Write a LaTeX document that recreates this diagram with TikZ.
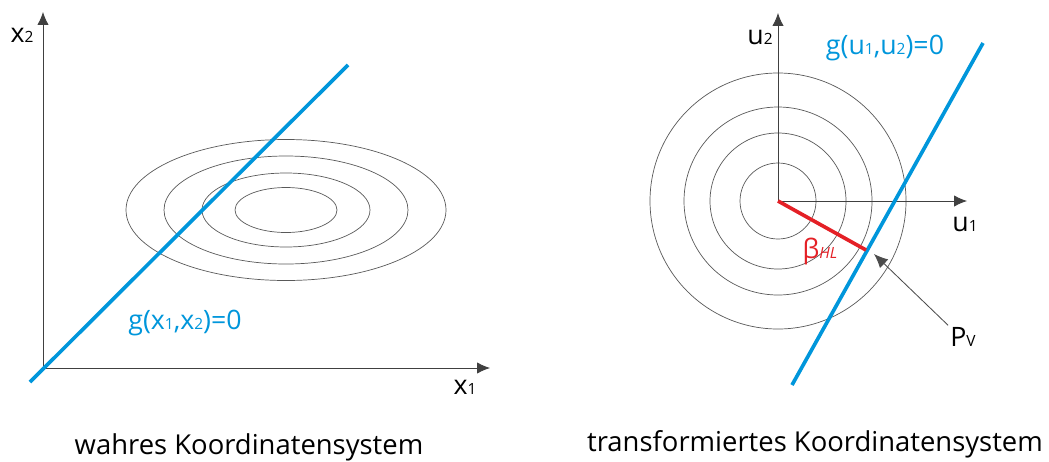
\documentclass[tikz,border=0pt]{standalone}
\usepackage{fontspec}
\setmainfont{Open Sans}
\usetikzlibrary{arrows.meta}
\definecolor{gblue}{RGB}{0,150,219}
\definecolor{hlred}{RGB}{228,32,38}
\newcommand{\idx}[1]{{\fontsize{11}{11}\selectfont #1}}

\begin{document}
\begin{tikzpicture}[
  x=0.025cm,y=-0.025cm,
  ax/.style={-{Latex[length=3.2mm,width=2.8mm]},draw=black!75,line width=0.6pt},
  iso/.style={draw=black!65,line width=0.5pt},
  lim/.style={draw=gblue,line width=2.6pt},
  lbl/.style={font=\fontsize{19}{20}\selectfont,inner sep=0pt},
  sysname/.style={font=\fontsize{19.5}{20}\selectfont,inner sep=0pt}
]
\useasboundingbox (0,0) rectangle (1049,461);

% wahres Koordinatensystem
\coordinate (O1) at (43,368);
\coordinate (x1end) at (490,368);
\coordinate (x2end) at (43,12);
\foreach \rx/\ry in {51/22.5,84/37,122/54,160/70.5}
  \draw[iso] (286,210) ellipse [x radius=\rx, y radius=\ry];
\draw[ax] (O1) -- (x1end);
\draw[ax] (O1) -- (x2end);
\coordinate (g1a) at (30,382);
\coordinate (g1b) at (348,65);
\draw[lim] (g1a) -- (g1b);
\node[lbl] (x1) at (465,387) {x\idx{1}};
\node[lbl] (x2) at (22,35) {x\idx{2}};
\node[lbl,text=gblue] (g1) at (185,323) {g(x\idx{1},x\idx{2})=0};
\node[sysname] (sys1) at (249,447) {wahres Koordinatensystem};

% transformiertes Koordinatensystem
\coordinate (O2) at (778,201);
\coordinate (u1end) at (967,201);
\coordinate (u2end) at (778,13);
\foreach \r in {38,68,94,128}
  \draw[iso] (O2) circle [radius=\r];
\draw[ax] (O2) -- (u1end);
\draw[ax] (O2) -- (u2end);
\coordinate (g2a) at (792,385);
\coordinate (g2b) at (983,43);
\draw[lim] (g2a) -- (g2b);
\coordinate (dp) at (866,250);
\draw[draw=hlred,line width=2.6pt] (O2) -- (dp);
\node[lbl] (u1) at (965,224) {u\idx{1}};
\node[lbl] (u2) at (760,37) {u\idx{2}};
\node[lbl,text=gblue] (g2) at (885,48) {g(u\idx{1},u\idx{2})=0};
\node[lbl,text=hlred] (beta) at (820,251) {β\idx{\itshape HL}};
\node[lbl] (pv) at (963,337) {P\idx{V}};
\coordinate (pvtip) at (874,254);
\draw[-{Latex[length=3.5mm,width=3mm]},draw=black!70,line width=0.6pt,shorten <=2pt] (pv.north west) -- (pvtip);
\node[sysname] (sys2) at (815,444) {transformiertes Koordinatensystem};
\end{tikzpicture}
\end{document}
